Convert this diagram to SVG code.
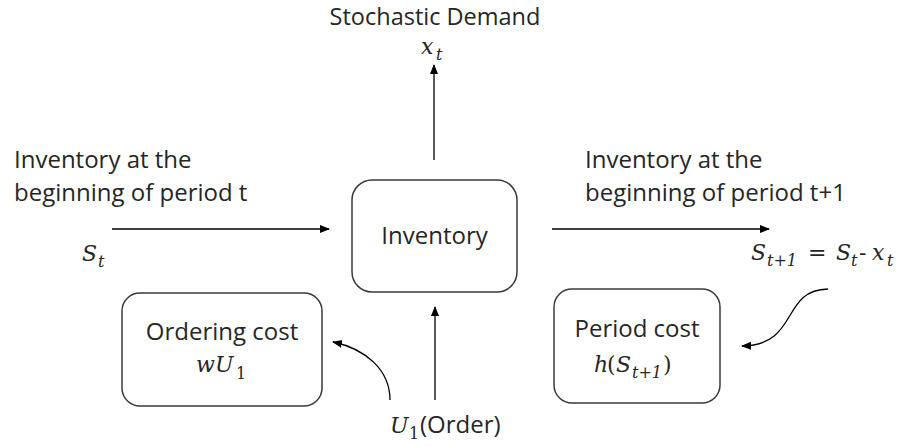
<svg xmlns="http://www.w3.org/2000/svg" width="907" height="446" viewBox="0 0 907 446">
  <defs>
    <marker id="head" viewBox="0 0 10 10" refX="9" refY="5" markerWidth="10" markerHeight="10" markerUnits="userSpaceOnUse" orient="auto">
      <path d="M0,1 L10,5 L0,9 Z" fill="#000"/>
    </marker>
    <style>
      .box { fill: #fff; stroke: #3a3a3a; stroke-width: 1.5; }
      .lbl { font-family: "Open Sans", "Noto Sans", sans-serif; font-size: 24px; font-style: normal; fill: #262626; }
      .math { font-family: "DejaVu Serif", "Liberation Serif", serif; font-style: italic; font-size: 22px; fill: #262626; }
      .up { font-style: normal; }
      .sub { font-size: 16px; }
      .wire { fill: none; stroke: #000; stroke-width: 1.3; marker-end: url(#head); }
    </style>
  </defs>
  <rect width="907" height="446" fill="#fff"/>

  <!-- free labels -->
  <text class="lbl" x="435" y="25" text-anchor="middle" style="font-size:23.5px">Stochastic Demand</text>
  <text class="math"><tspan x="421" y="54">x</tspan><tspan class="sub" x="436" y="60">t</tspan></text>

  <text class="lbl" x="14" y="168">Inventory at the</text>
  <text class="lbl" x="14" y="201">beginning of period t</text>
  <text class="math"><tspan x="82" y="261">S</tspan><tspan class="sub" x="98" y="267">t</tspan></text>

  <text class="lbl" x="585" y="168">Inventory at the</text>
  <text class="lbl" x="585" y="201">beginning of period t+1</text>
  <!-- S(t+1) = S(t) - x(t), pieces placed one by one -->
  <text class="math"><tspan x="751" y="260">S</tspan><tspan class="sub" x="767" y="266">t+1</tspan><tspan class="up" x="808" y="260">=</tspan><tspan x="836" y="260">S</tspan><tspan class="sub" x="851" y="266">t</tspan><tspan class="up" x="859" y="260">-</tspan><tspan x="872" y="260">x</tspan><tspan class="sub" x="887" y="266">t</tspan></text>

  <text class="math"><tspan x="390" y="433">U</tspan><tspan class="sub up" x="409" y="439">1</tspan><tspan class="lbl" x="420" y="433">(Order)</tspan></text>

  <!-- nodes -->
  <g id="inventory">
    <rect class="box" x="352" y="180" width="165" height="112" rx="20"/>
    <text class="lbl" x="434.5" y="244" text-anchor="middle">Inventory</text>
  </g>
  <g id="ordering-cost">
    <rect class="box" x="122" y="293" width="200" height="113" rx="18"/>
    <text class="lbl" x="222" y="340" text-anchor="middle">Ordering cost</text>
    <text class="math"><tspan x="196" y="372">w</tspan><tspan x="215" y="372">U</tspan><tspan class="sub up" x="236" y="379">1</tspan></text>
  </g>
  <g id="period-cost">
    <rect class="box" x="554" y="289" width="166" height="114" rx="18"/>
    <text class="lbl" x="637" y="337" text-anchor="middle">Period cost</text>
    <text class="math"><tspan x="594" y="372">h</tspan><tspan class="up" x="607" y="372">(</tspan><tspan x="616" y="372">S</tspan><tspan class="sub" x="632" y="378">t+1</tspan><tspan class="up" x="663" y="372">)</tspan></text>
  </g>

  <!-- connectors -->
  <g id="connectors">
    <path class="wire" d="M434,160 L434,65"/>
    <path class="wire" d="M112,229 L329,229"/>
    <path class="wire" d="M552,229 L769,229"/>
    <path class="wire" d="M435,400 L435,307"/>
    <path class="wire" d="M390,400 C390,370 366,349 333,342"/>
    <path class="wire" d="M828,289 C780,290 800,345 742,346"/>
  </g>
</svg>
